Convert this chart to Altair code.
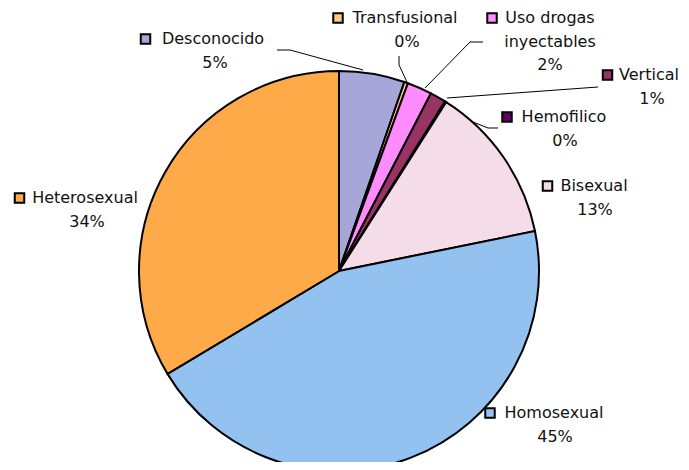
import altair as alt
import pandas as pd

# ---- data ----
categories = ["Desconocido", "Transfusional", "Uso drogas inyectables", "Vertical",
              "Hemofilico", "Bisexual", "Homosexual", "Heterosexual"]
values = [5.3, 0.3, 2.0, 1.3, 0.1, 12.8, 44.6, 33.6]
colors = ["#a6a6d8", "#ffc98c", "#ff8cff", "#993366", "#660066", "#f4dde8", "#93c2f0", "#ffaa48"]

# label layout (page coordinates): name lines, pct line, legend key
name_lines = [["Desconocido"], ["Transfusional"], ["Uso drogas", "inyectables"], ["Vertical"],
              ["Hemofilico"], ["Bisexual"], ["Homosexual"], ["Heterosexual"]]
label_x = [213, 405, 550, 649, 564, 594, 554, 85]
label_y = [39, 18, 18, 75, 117, 186, 413, 198]
pct_x = [215, 407, 550, 652, 565, 595, 555, 87]
key_x = [145.5, 338, 492, 607.5, 507, 547.5, 490, 19.5]

# leader lines (page coordinates)
leaders = {
    "Desconocido": [(277, 50), (290, 50), (363, 70)],
    "Transfusional": [(399, 56), (399, 65), (407, 82)],
    "Uso drogas inyectables": [(483, 42), (470, 42), (425, 88)],
    "Vertical": [(598, 87), (447, 98)],
    "Hemofilico": [(498, 128), (488, 128), (473, 122)],
}

LINE = 23.5
FONT = "DejaVu Sans"
FS = 16

pie_df = pd.DataFrame({"cat": categories, "value": values, "idx": list(range(len(categories)))})

rows = []
keys = []
for i, c in enumerate(categories):
    y = label_y[i]
    for ln in name_lines[i]:
        rows.append({"x": label_x[i], "y": y, "t": ln})
        y += LINE
    rows.append({"x": pct_x[i], "y": y, "t": f"{round(values[i])}%"})
    keys.append({"x": key_x[i], "y": label_y[i], "cat": c})
text_df = pd.DataFrame(rows)
key_df = pd.DataFrame(keys)

lrows = []
for c, pts in leaders.items():
    for j, (px, py) in enumerate(pts):
        lrows.append({"cat": c, "o": j, "x": px, "y": py})
lead_df = pd.DataFrame(lrows)

W, H = 673, 454
xs = alt.Scale(domain=[8, 8 + W], nice=False, zero=False)
ys = alt.Scale(domain=[8, 8 + H], nice=False, zero=False, reverse=True)
cs = alt.Scale(domain=categories, range=colors)

pie = alt.Chart(pie_df).mark_arc(outerRadius=200, stroke="black", strokeWidth=2).encode(
    theta=alt.Theta("value:Q", stack=True),
    order=alt.Order("idx:Q"),
    color=alt.Color("cat:N", scale=cs, legend=None),
    x=alt.value(339 - 8),
    y=alt.value(271 - 8),
)

lead = alt.Chart(lead_df).mark_line(color="black", strokeWidth=1).encode(
    x=alt.X("x:Q", scale=xs, axis=None),
    y=alt.Y("y:Q", scale=ys, axis=None),
    detail="cat:N",
    order="o:Q",
)

txt = alt.Chart(text_df).mark_text(font=FONT, fontSize=FS, color="#111111", align="center",
                                   baseline="middle").encode(
    x=alt.X("x:Q", scale=xs, axis=None),
    y=alt.Y("y:Q", scale=ys, axis=None),
    text="t:N",
)

key = alt.Chart(key_df).mark_point(shape="square", size=90, filled=True, stroke="black",
                                   strokeWidth=2, opacity=1).encode(
    x=alt.X("x:Q", scale=xs, axis=None),
    y=alt.Y("y:Q", scale=ys, axis=None),
    fill=alt.Fill("cat:N", scale=cs, legend=None),
)

chart = alt.layer(pie, lead, txt, key).properties(
    width=W, height=H, padding=0, autosize=alt.AutoSizeParams(type="none")
).configure_view(stroke=None)

chart.save("out.html", embed_options={"renderer": "svg", "actions": False})
